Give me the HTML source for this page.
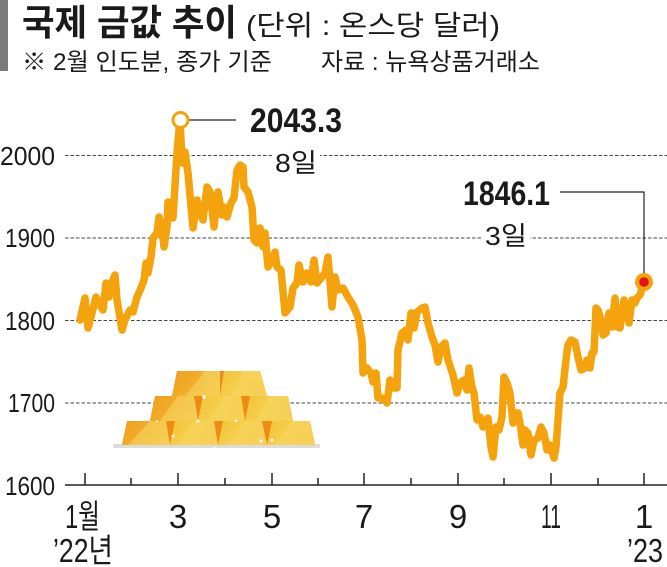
<!DOCTYPE html>
<html><head><meta charset="utf-8"><style>
html,body{margin:0;padding:0;background:#fff;}
svg{display:block;}
text{font-family:"Liberation Sans","Noto Sans CJK KR",sans-serif;fill:#1a1a1a;}
</style></head><body>
<svg width="667" height="567" viewBox="0 0 667 567" xmlns="http://www.w3.org/2000/svg">
<defs>
<linearGradient id="gO" x1="0" y1="0" x2="1" y2="0.4"><stop offset="0" stop-color="#EE9E1C"/><stop offset="0.55" stop-color="#F2AD2A"/><stop offset="1" stop-color="#F4BE3C"/></linearGradient>
<linearGradient id="gY" x1="0" y1="0" x2="1" y2="0.4"><stop offset="0" stop-color="#F3C23A"/><stop offset="0.5" stop-color="#F6CD4A"/><stop offset="1" stop-color="#F4C640"/></linearGradient>
</defs>
<rect x="0" y="0" width="667" height="567" fill="#fff"/>
<!-- title bar -->
<rect x="0" y="0" width="8" height="71" fill="#7b7b7b"/>
<text x="22" y="35" font-size="36" font-weight="bold" textLength="215" lengthAdjust="spacingAndGlyphs">국제 금값 추이</text>
<text x="246" y="35" font-size="28" textLength="254" lengthAdjust="spacingAndGlyphs">(단위 : 온스당 달러)</text>
<text x="22" y="70" font-size="24" textLength="250" lengthAdjust="spacingAndGlyphs">※ 2월 인도분, 종가 기준</text>
<text x="321" y="70" font-size="24" textLength="219" lengthAdjust="spacingAndGlyphs">자료 : 뉴욕상품거래소</text>

<!-- gridlines -->
<g stroke="#444" stroke-width="1" stroke-dasharray="3.5 2">
<line x1="65" y1="155.5" x2="667" y2="155.5"/>
<line x1="65" y1="238" x2="667" y2="238"/>
<line x1="65" y1="320.5" x2="667" y2="320.5"/>
<line x1="65" y1="403" x2="667" y2="403"/>
</g>
<!-- y labels -->
<g font-size="26" text-anchor="end">
<text x="55" y="165" textLength="55" lengthAdjust="spacingAndGlyphs">2000</text>
<text x="55" y="247" textLength="50" lengthAdjust="spacingAndGlyphs">1900</text>
<text x="55" y="330" textLength="50" lengthAdjust="spacingAndGlyphs">1800</text>
<text x="55" y="412" textLength="47" lengthAdjust="spacingAndGlyphs">1700</text>
<text x="55" y="495" textLength="50" lengthAdjust="spacingAndGlyphs">1600</text>
</g>
<!-- axis -->
<line x1="65" y1="485" x2="667" y2="485" stroke="#222" stroke-width="1.5"/>
<g stroke="#222" stroke-width="1.5">
<line x1="85" y1="473" x2="85" y2="485"/><line x1="131" y1="478" x2="131" y2="485"/>
<line x1="178" y1="473" x2="178" y2="485"/><line x1="225" y1="478" x2="225" y2="485"/>
<line x1="272" y1="473" x2="272" y2="485"/><line x1="318" y1="478" x2="318" y2="485"/>
<line x1="364" y1="473" x2="364" y2="485"/><line x1="411" y1="478" x2="411" y2="485"/>
<line x1="458" y1="473" x2="458" y2="485"/><line x1="504" y1="478" x2="504" y2="485"/>
<line x1="551" y1="473" x2="551" y2="485"/><line x1="598" y1="478" x2="598" y2="485"/>
<line x1="644" y1="473" x2="644" y2="485"/>
</g>
<!-- x labels -->
<g font-size="33">
<text x="65" y="528" textLength="35" lengthAdjust="spacingAndGlyphs">1월</text>
<text x="178" y="528" text-anchor="middle">3</text>
<text x="272" y="528" text-anchor="middle">5</text>
<text x="364" y="528" text-anchor="middle">7</text>
<text x="458" y="528" text-anchor="middle">9</text>
<text x="541" y="528" textLength="20" lengthAdjust="spacingAndGlyphs">11</text>
<text x="644" y="528" text-anchor="middle">1</text>
<text x="53" y="562" textLength="60" lengthAdjust="spacingAndGlyphs">’22년</text>
<text x="627" y="562" textLength="36" lengthAdjust="spacingAndGlyphs">’23</text>
</g>

<!-- gold bars -->
<rect x="113" y="444" width="207" height="4" fill="#dcdcdc" rx="1"/>
<g>
<polygon points="127,421 310,421 315,445 122,445" fill="#EC8C12"/>
<polygon points="155,396 288,396 293,421 150,421" fill="#EC8C12"/>
<polygon points="177,371 260,371 267,396 172,396" fill="#EC8C12"/>
<polygon points="127,421 166,421 170,445 122,445" fill="url(#gO)"/>
<polygon points="175,421 214,421 218,445 170,445" fill="url(#gY)"/>
<polygon points="223,421 262,421 267,445 218,445" fill="url(#gY)"/>
<polygon points="272,421 310,421 315,445 267,445" fill="url(#gY)"/>
<polygon points="155,396 194,396 198,421 150,421" fill="url(#gO)"/>
<polygon points="203,396 241,396 245,421 198,421" fill="url(#gY)"/>
<polygon points="250,396 288,396 293,421 245,421" fill="url(#gY)"/>
<polygon points="177,371 220,371 220,396 172,396" fill="url(#gO)"/>
<polygon points="224,371 260,371 267,396 220,396" fill="url(#gY)"/>
<g fill="#F8D865" opacity="0.55">
<polygon points="150,421 166,421 170,445 128,445"/>
<polygon points="178,396 194,396 198,421 160,421"/>
<polygon points="205,371 220,371 220,396 185,396"/>
<polygon points="195,421 214,421 218,445 178,445"/>
<polygon points="225,396 241,396 245,421 208,421"/>
<polygon points="245,421 262,421 267,445 228,445"/>
<polygon points="270,396 288,396 293,421 255,421"/>
<polygon points="292,421 310,421 315,445 276,445"/>
<polygon points="245,371 260,371 267,396 230,396"/>
</g>
<g fill="#fff">
<circle cx="204" cy="397" r="1.8"/><circle cx="173" cy="436" r="1.5"/><circle cx="198" cy="421" r="1.5"/><circle cx="236" cy="421" r="1.3"/><circle cx="261" cy="441" r="1.5"/><circle cx="272" cy="440" r="1.5"/><circle cx="157" cy="421" r="1"/><circle cx="215" cy="448" r="1"/>
</g>
</g>

<!-- label backgrounds -->
<rect x="272" y="147" width="48" height="30" fill="#fff"/>
<rect x="482" y="222" width="48" height="30" fill="#fff"/>

<!-- series line -->
<polyline fill="none" stroke="#F4A30C" stroke-width="7.5" stroke-linejoin="round" stroke-linecap="round" points="80,320 85,298 88,328 92,313 96,297 99,303 103,310 106,283 109,297 112,283 115,275 117,300 122,330 125,320 130,310 133,312 137,297 141,288 144,280 146,263 148,273 151,257 153,238 157,233 159,217 162,228 164,247 167,227 168,202 171,217 173,218 177,153 180,119 182,163 185,152 188,173 193,228 197,200 200,213 203,220 207,187 210,192 214,227 218,192 222,215 224,207 227,217 231,203 234,198 237,170 240,165 243,167 244,187 248,192 252,207 254,240 257,243 260,228 263,247 265,233 268,267 272,260 275,252 277,267 281,270 285,313 290,307 293,288 297,283 299,265 303,282 307,273 311,282 314,260 317,283 322,277 325,273 328,257 332,307 335,277 338,290 343,288 348,297 353,305 358,317 362,340 363,373 367,368 371,373 373,382 376,373 378,398 383,398 387,403 390,380 393,388 397,388 398,350 402,333 406,330 408,340 411,313 414,328 417,312 422,308 425,307 428,323 432,337 435,345 438,362 441,347 445,343 448,360 453,375 457,393 460,383 464,380 467,390 469,368 472,387 474,393 477,420 480,417 483,427 488,418 491,447 493,457 496,427 499,430 502,417 504,377 507,383 510,393 513,423 515,413 518,413 520,423 523,445 525,430 528,433 531,455 534,440 538,438 541,427 544,433 547,450 550,445 554,458 556,447 558,420 560,393 563,387 566,360 568,345 571,340 575,342 578,357 581,370 585,368 587,360 590,368 592,353 594,352 596,308 598,310 601,320 603,335 606,333 609,313 612,327 615,298 617,327 620,328 624,300 627,310 629,323 632,300 635,303 637,298 640,295 644,282"/>

<!-- annotations -->
<line x1="189" y1="120" x2="236" y2="120" stroke="#222" stroke-width="1.2"/>
<circle cx="180.5" cy="120" r="7.5" fill="#fff" stroke="#F4A30C" stroke-width="3"/>
<text x="250" y="132" font-size="34" font-weight="bold" textLength="92" lengthAdjust="spacingAndGlyphs">2043.3</text>
<text x="275" y="172" font-size="26" textLength="42" lengthAdjust="spacingAndGlyphs">8일</text>

<polyline points="560,192 644,192 644,274" fill="none" stroke="#222" stroke-width="1.2"/>
<circle cx="644" cy="282" r="9" fill="#F4A30C"/>
<circle cx="644" cy="282" r="4.8" fill="#E3121B"/>
<text x="463" y="205" font-size="34" font-weight="bold" textLength="87" lengthAdjust="spacingAndGlyphs">1846.1</text>
<text x="485" y="245" font-size="26" textLength="42" lengthAdjust="spacingAndGlyphs">3일</text>
</svg>
</body></html>
